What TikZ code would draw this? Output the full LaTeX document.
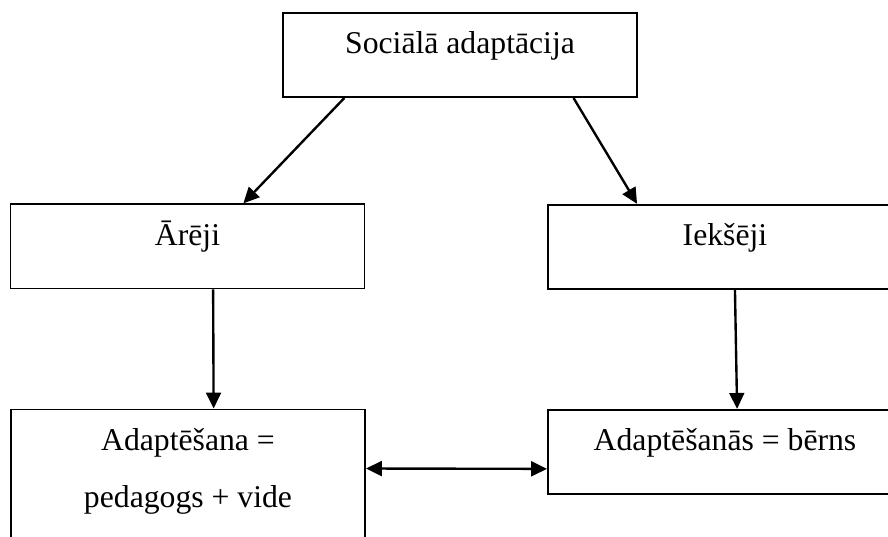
\documentclass[tikz,border=0pt]{standalone}
\usepackage{fontspec}
\setmainfont{Liberation Serif}
\usetikzlibrary{arrows.meta,calc}

\begin{document}
\begin{tikzpicture}[x=0.3785pt,y=-0.3785pt,>={Triangle[length=6pt,width=5.6pt]}]
	\tikzstyle{every node}=[font=\fontsize{12}{21.6}\selectfont]
	\tikzstyle{bloks}=[draw,line width=0.7pt,inner sep=0pt,minimum width=134pt,text height=15.6pt,text depth=16.3pt,anchor=base]
	\tikzstyle{bulta}=[->,line width=0.9pt]
	\useasboundingbox (0,0) rectangle (888,537);
	\clip (0,0) rectangle (888,537);
	\node[bloks] (sociala) at (460,54) {Sociālā adaptācija};
	\node[bloks] (areji) at (187.5,245.5) {Ārēji};
	\node[bloks] (iekseji) at (725,246) {Iekšēji};
	\node[bloks,align=center,text height=37.3pt,text depth=20pt] (adaptesana) at (188,508) {Adaptēšana =\\pedagogs + vide};
	\node[bloks] (adaptesanas) at (725,451) {Adaptēšanās = bērns};
	\draw[bulta] ($(sociala.south west)!0.175!(sociala.south east)$) -- ($(areji.north west)!0.657!(areji.north east)$);
	\draw[bulta] ($(sociala.south west)!0.819!(sociala.south east)$) -- ($(iekseji.north west)!0.253!(iekseji.north east)$);
	\draw[bulta] ($(areji.south west)!0.572!(areji.south east)$) -- ($(adaptesana.north west)!0.572!(adaptesana.north east)$);
	\draw[bulta] ($(iekseji.south west)!0.528!(iekseji.south east)$) -- ($(adaptesanas.north west)!0.534!(adaptesanas.north east)$);
	\draw[bulta,<->] ($(adaptesana.north east)+(0,60)$) -- ($(adaptesanas.north west)+(0,60)$);
\end{tikzpicture}
\end{document}
